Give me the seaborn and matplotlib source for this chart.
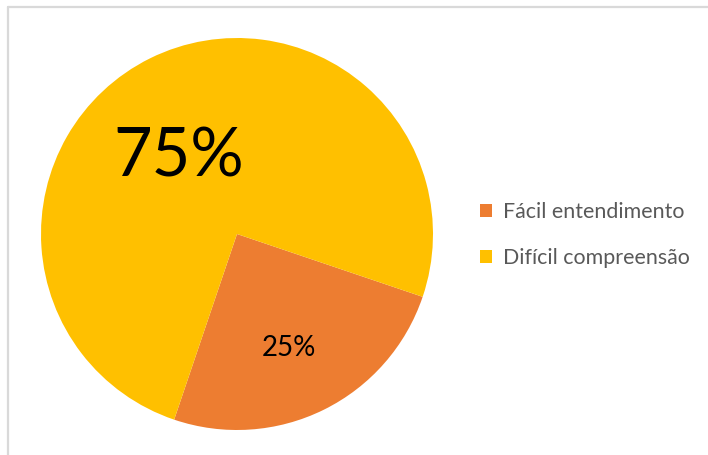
import matplotlib
matplotlib.use("Agg")
import matplotlib.pyplot as plt
import seaborn as sns
from matplotlib.patches import Patch
from matplotlib.lines import Line2D

categories = ["Fácil entendimento", "Difícil compreensão"]
values = [25, 75]
colors = ["#ED7D31", "#FFC000"]
pct_labels = ["25%", "75%"]

sns.set_theme(style="white")
plt.rcParams['font.family'] = ['Lato', 'DejaVu Sans']

W, H = 708, 455
fig = plt.figure(figsize=(W / 100, H / 100), dpi=100)

# border (top and left visible)
fig.add_artist(Line2D([7.5 / W, 7.5 / W], [0, 1 - 6.5 / H], transform=fig.transFigure,
                      color="#d9d9d9", lw=1.6))
fig.add_artist(Line2D([7.5 / W, 1], [1 - 6.5 / H, 1 - 6.5 / H], transform=fig.transFigure,
                      color="#d9d9d9", lw=1.6))

cx, cy, r = 237, 234, 196
ax = fig.add_axes([(cx - r) / W, (H - cy - r) / H, 2 * r / W, 2 * r / H])
wedges, _ = ax.pie(values, colors=colors, startangle=-18.7, counterclock=False,
                   radius=1.0, wedgeprops=dict(linewidth=0))
ax.set_xlim(-1, 1)
ax.set_ylim(-1, 1)
ax.set_aspect("equal")
ax.axis("off")

ax.text(0.265, -0.58, pct_labels[0], ha="center", va="center", fontsize=20, color="black")
ax.text(-0.30, 0.39, pct_labels[1], ha="center", va="center", fontsize=48, color="black")

handles = [Patch(facecolor=c, edgecolor="none") for c in colors]
leg = fig.legend(handles, categories, loc="center left",
                 bbox_to_anchor=(480 / W, 1 - 235 / H), frameon=False,
                 fontsize=15.4, handlelength=0.56, handleheight=0.56,
                 handletextpad=0.5, labelspacing=1.2, borderpad=0, borderaxespad=0)
for t in leg.get_texts():
    t.set_color("#595959")

fig.savefig("out.png", dpi=100)
